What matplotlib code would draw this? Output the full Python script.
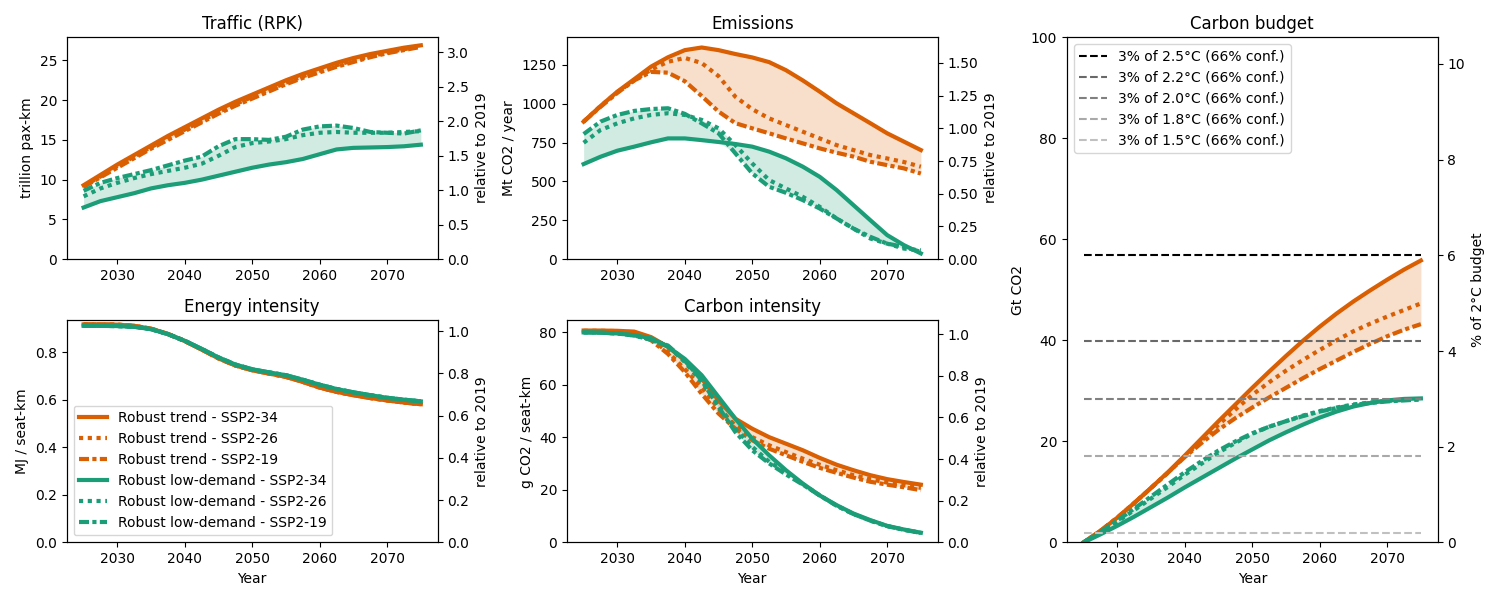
import numpy as np
import matplotlib
matplotlib.use("Agg")
import matplotlib.pyplot as plt
from matplotlib.gridspec import GridSpec

# years every 2.5 years
years = [2025, 2027.5, 2030, 2032.5, 2035, 2037.5, 2040, 2042.5, 2045, 2047.5, 2050,
         2052.5, 2055, 2057.5, 2060, 2062.5, 2065, 2067.5, 2070, 2072.5, 2075]

scenario_names = ['SSP2-34', 'SSP2-26', 'SSP2-19']
group_names = ['Robust trend', 'Robust low-demand']

# Traffic (trillion pax-km)
traffic_trend_34 = [9.3, 10.6, 11.9, 13.1, 14.3, 15.5, 16.6, 17.7, 18.8, 19.8, 20.7, 21.6, 22.5, 23.3, 24.0, 24.7, 25.3, 25.8, 26.2, 26.6, 26.9]
traffic_trend_26 = [9.2, 10.4, 11.7, 12.9, 14.1, 15.2, 16.3, 17.4, 18.5, 19.5, 20.4, 21.3, 22.2, 23.0, 23.7, 24.4, 25.0, 25.5, 26.0, 26.4, 26.8]
traffic_trend_19 = [9.1, 10.3, 11.5, 12.7, 13.9, 15.0, 16.1, 17.2, 18.3, 19.3, 20.2, 21.1, 22.0, 22.8, 23.5, 24.2, 24.8, 25.4, 25.9, 26.3, 26.7]
traffic_low_34 = [6.5, 7.3, 7.8, 8.3, 8.9, 9.3, 9.6, 10.0, 10.5, 11.0, 11.5, 11.9, 12.2, 12.6, 13.2, 13.8, 14.0, 14.05, 14.1, 14.2, 14.4]
traffic_low_26 = [7.9, 8.9, 9.6, 10.2, 10.7, 11.1, 11.5, 12.0, 13.0, 14.1, 14.6, 14.8, 15.1, 15.6, 15.9, 16.0, 15.9, 15.9, 15.9, 16.0, 16.1]
traffic_low_19 = [8.6, 9.6, 10.2, 10.7, 11.2, 11.8, 12.4, 12.9, 14.2, 15.1, 15.1, 15.0, 15.4, 16.3, 16.7, 16.8, 16.5, 16.0, 15.9, 15.8, 16.2]

# Emissions (Mt CO2 / year)
em_trend_34 = [885, 985, 1078, 1158, 1239, 1299, 1345, 1362, 1345, 1320, 1298, 1268, 1216, 1150, 1078, 1003, 939, 875, 810, 756, 702]
em_trend_26 = [885, 985, 1075, 1150, 1220, 1270, 1295, 1262, 1178, 1045, 965, 906, 863, 820, 777, 734, 702, 670, 648, 625, 595]
em_trend_19 = [885, 980, 1070, 1150, 1205, 1200, 1145, 1050, 950, 875, 842, 810, 777, 745, 713, 685, 660, 627, 605, 584, 551]
em_low_34 = [612, 659, 698, 724, 752, 777, 777, 766, 754, 741, 724, 692, 649, 595, 530, 445, 348, 251, 155, 90, 37]
em_low_26 = [749, 831, 874, 906, 928, 939, 928, 896, 842, 734, 616, 509, 455, 401, 337, 262, 197, 133, 100, 68, 57]
em_low_19 = [805, 885, 928, 954, 966, 971, 935, 874, 810, 681, 552, 466, 427, 380, 326, 262, 197, 144, 100, 79, 47]

# Energy intensity (MJ / seat-km)
ei_trend = [0.918, 0.918, 0.917, 0.912, 0.900, 0.878, 0.848, 0.812, 0.775, 0.745, 0.725, 0.711, 0.697, 0.676, 0.652, 0.634, 0.620, 0.608, 0.598, 0.589, 0.582]
ei_low = [0.912, 0.912, 0.911, 0.908, 0.898, 0.877, 0.849, 0.815, 0.779, 0.749, 0.729, 0.716, 0.704, 0.685, 0.664, 0.646, 0.632, 0.620, 0.609, 0.601, 0.594]

# Carbon intensity (g CO2 / seat-km)
ci_trend_34 = [80.7, 80.7, 80.6, 80.3, 78.2, 74.5, 69.3, 62.4, 54.1, 47.1, 43.3, 40.1, 37.6, 35.1, 32.2, 29.6, 27.5, 25.6, 24.1, 23.0, 22.0]
ci_trend_26 = [80.6, 80.6, 80.5, 80.0, 77.5, 72.5, 66.0, 59.1, 51.0, 44.6, 40.1, 37.0, 34.4, 31.9, 29.6, 27.5, 25.6, 24.1, 22.8, 21.8, 20.8]
ci_trend_19 = [80.5, 80.5, 80.3, 79.5, 77.0, 71.8, 64.9, 56.6, 49.1, 43.3, 38.9, 35.7, 33.2, 30.7, 28.4, 26.5, 24.7, 23.1, 22.0, 21.0, 19.9]
ci_low_34 = [80.0, 79.9, 79.6, 78.9, 77.8, 74.5, 69.9, 63.7, 55.4, 47.1, 39.5, 33.2, 27.5, 22.4, 17.9, 14.2, 11.0, 8.5, 6.3, 4.9, 3.7]
ci_low_26 = [80.0, 79.9, 79.6, 78.8, 77.3, 74.8, 68.7, 61.1, 52.2, 43.3, 36.4, 30.7, 26.6, 22.2, 17.9, 14.0, 10.8, 8.3, 6.2, 4.8, 3.6]
ci_low_19 = [80.0, 79.9, 79.6, 78.8, 77.2, 75.0, 69.3, 61.7, 51.6, 42.0, 35.1, 30.1, 25.9, 22.0, 17.9, 14.0, 10.8, 8.3, 6.2, 4.8, 3.6]

# Cumulative emissions (Gt CO2)
cum_trend_34 = [0, 2.3, 4.9, 7.8, 10.8, 13.9, 17.2, 20.6, 24.0, 27.3, 30.6, 33.8, 36.9, 39.9, 42.7, 45.3, 47.7, 49.9, 52.0, 54.0, 55.8]
cum_trend_26 = [0, 2.3, 4.9, 7.8, 10.8, 13.8, 17.0, 20.2, 23.3, 26.3, 29.2, 31.7, 34.0, 36.1, 38.1, 40.0, 41.8, 43.3, 44.7, 46.0, 47.3]
cum_trend_19 = [0, 2.3, 4.9, 7.8, 10.8, 13.8, 16.9, 19.7, 22.3, 24.6, 26.7, 28.7, 30.6, 32.5, 34.3, 36.0, 37.7, 39.3, 40.8, 42.1, 43.2]
cum_low_34 = [0, 1.6, 3.3, 5.1, 7.0, 8.9, 10.9, 12.8, 14.7, 16.6, 18.4, 20.2, 21.8, 23.3, 24.7, 25.9, 26.9, 27.6, 28.1, 28.4, 28.5]
cum_low_26 = [0, 2.0, 4.1, 6.4, 8.7, 11.0, 13.4, 15.6, 17.8, 19.7, 21.5, 22.9, 24.0, 25.1, 26.0, 26.7, 27.3, 27.7, 28.0, 28.2, 28.3]
cum_low_19 = [0, 2.1, 4.35, 6.7, 9.1, 11.5, 13.9, 16.1, 18.2, 20.0, 21.6, 22.9, 24.0, 25.0, 25.9, 26.6, 27.2, 27.6, 27.9, 28.1, 28.3]

# 2019 reference values for right axes
ref_traffic = 8.67
ref_emissions = 842
ref_energy = 0.89
ref_carbon = 79.3
budget_2c = 947  # Gt CO2

# 3% of carbon budgets (Gt CO2)
budget_labels = ['3% of 2.5°C (66% conf.)', '3% of 2.2°C (66% conf.)', '3% of 2.0°C (66% conf.)',
                 '3% of 1.8°C (66% conf.)', '3% of 1.5°C (66% conf.)']
budget_values = [56.8, 39.8, 28.4, 17.2, 1.8]
budget_colors = ['black', 'dimgray', 'gray', 'darkgray', 'silver']

colors = ['#d95f02', '#1b9e77']
styles = ['-', (0, (1, 1.1)), (0, (2.4, 0.8, 1, 0.8))]


def plot_group(ax, trend, low):
    for k, series in enumerate([trend, low]):
        for s, vals in enumerate(series):
            ax.plot(years, vals, color=colors[k], linestyle=styles[s], linewidth=3,
                    label=f'{group_names[k]} - {scenario_names[s]}')
        arr = np.array(series)
        ax.fill_between(years, arr.min(axis=0), arr.max(axis=0), color=colors[k], alpha=0.2, linewidth=0)


def add_right(ax, ref, label):
    ax.set_ylim(bottom=0)
    ax2 = ax.twinx()
    ax2.set_ylim(0, ax.get_ylim()[1] / ref)
    ax2.set_ylabel(label)
    return ax2


fig = plt.figure(figsize=(15, 6))
gs = GridSpec(2, 3, figure=fig, left=0.0445, right=0.9585, top=0.938, bottom=0.096,
              wspace=0.348, hspace=0.276)
ax_traffic = fig.add_subplot(gs[0, 0])
ax_em = fig.add_subplot(gs[0, 1])
ax_ei = fig.add_subplot(gs[1, 0])
ax_ci = fig.add_subplot(gs[1, 1])
ax_cb = fig.add_subplot(gs[:, 2])

plot_group(ax_traffic, [traffic_trend_34, traffic_trend_26, traffic_trend_19],
           [traffic_low_34, traffic_low_26, traffic_low_19])
ax_traffic.set_title('Traffic (RPK)')
ax_traffic.set_ylabel('trillion pax-km')
add_right(ax_traffic, ref_traffic, 'relative to 2019')

plot_group(ax_em, [em_trend_34, em_trend_26, em_trend_19], [em_low_34, em_low_26, em_low_19])
ax_em.set_title('Emissions')
ax_em.set_ylabel('Mt CO2 / year')
add_right(ax_em, ref_emissions, 'relative to 2019')

plot_group(ax_ei, [ei_trend, ei_trend, ei_trend], [ei_low, ei_low, ei_low])
ax_ei.set_title('Energy intensity')
ax_ei.set_ylabel('MJ / seat-km')
ax_ei.set_xlabel('Year')
ax_ei.legend(loc='lower left')
add_right(ax_ei, ref_energy, 'relative to 2019')

plot_group(ax_ci, [ci_trend_34, ci_trend_26, ci_trend_19], [ci_low_34, ci_low_26, ci_low_19])
ax_ci.set_title('Carbon intensity')
ax_ci.set_ylabel('g CO2 / seat-km')
ax_ci.set_xlabel('Year')
add_right(ax_ci, ref_carbon, 'relative to 2019')

plot_group(ax_cb, [cum_trend_34, cum_trend_26, cum_trend_19], [cum_low_34, cum_low_26, cum_low_19])
handles = []
for val, lab, col in zip(budget_values, budget_labels, budget_colors):
    h = ax_cb.hlines(val, years[0], years[-1], colors=col, linestyles='--', linewidth=1.5, label=lab)
    handles.append(h)
ax_cb.legend(handles=handles, loc='upper left')
ax_cb.set_title('Carbon budget')
ax_cb.set_ylabel('Gt CO2')
ax_cb.set_xlabel('Year')
ax_cb.set_ylim(0, 100)
ax_cb2 = ax_cb.twinx()
ax_cb2.set_ylim(0, 100 / budget_2c * 100)
ax_cb2.set_ylabel('% of 2°C budget')

plt.savefig('out.png', dpi=100)
plt.close()
